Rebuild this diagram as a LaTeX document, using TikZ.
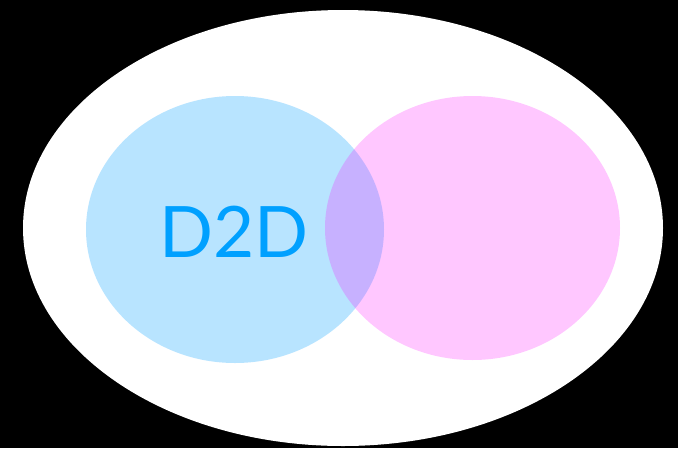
\documentclass[tikz,border=0pt]{standalone}
\usepackage{fontspec}
\newfontfamily\labelfont{Lato}
\definecolor{skyblue}{RGB}{0,160,255}
\definecolor{rosepink}{RGB}{255,0,255}
\begin{document}
\begin{tikzpicture}[x=1pt,y=-1pt,
  disc/.style={draw=none,fill opacity=#1},
  label/.style={font=\labelfont\fontsize{71}{71}\selectfont,text=skyblue,inner sep=0pt}]
  % black backdrop fixing the page size
  \fill[black] (0,0) rectangle (678,448);
  \useasboundingbox (0,0) rectangle (678,448);
  % outer white field
  \fill[white] (343,228) ellipse [x radius=320, y radius=218];
  % two overlapping sets
  \fill[skyblue,disc=0.28] (235,229.5) ellipse [x radius=149, y radius=133.5];
  \fill[rosepink,disc=0.22] (472.5,228) ellipse [x radius=147.5, y radius=132];
  \node[label] (d2d) at (234,231.5) {D2D};
\end{tikzpicture}
\end{document}
